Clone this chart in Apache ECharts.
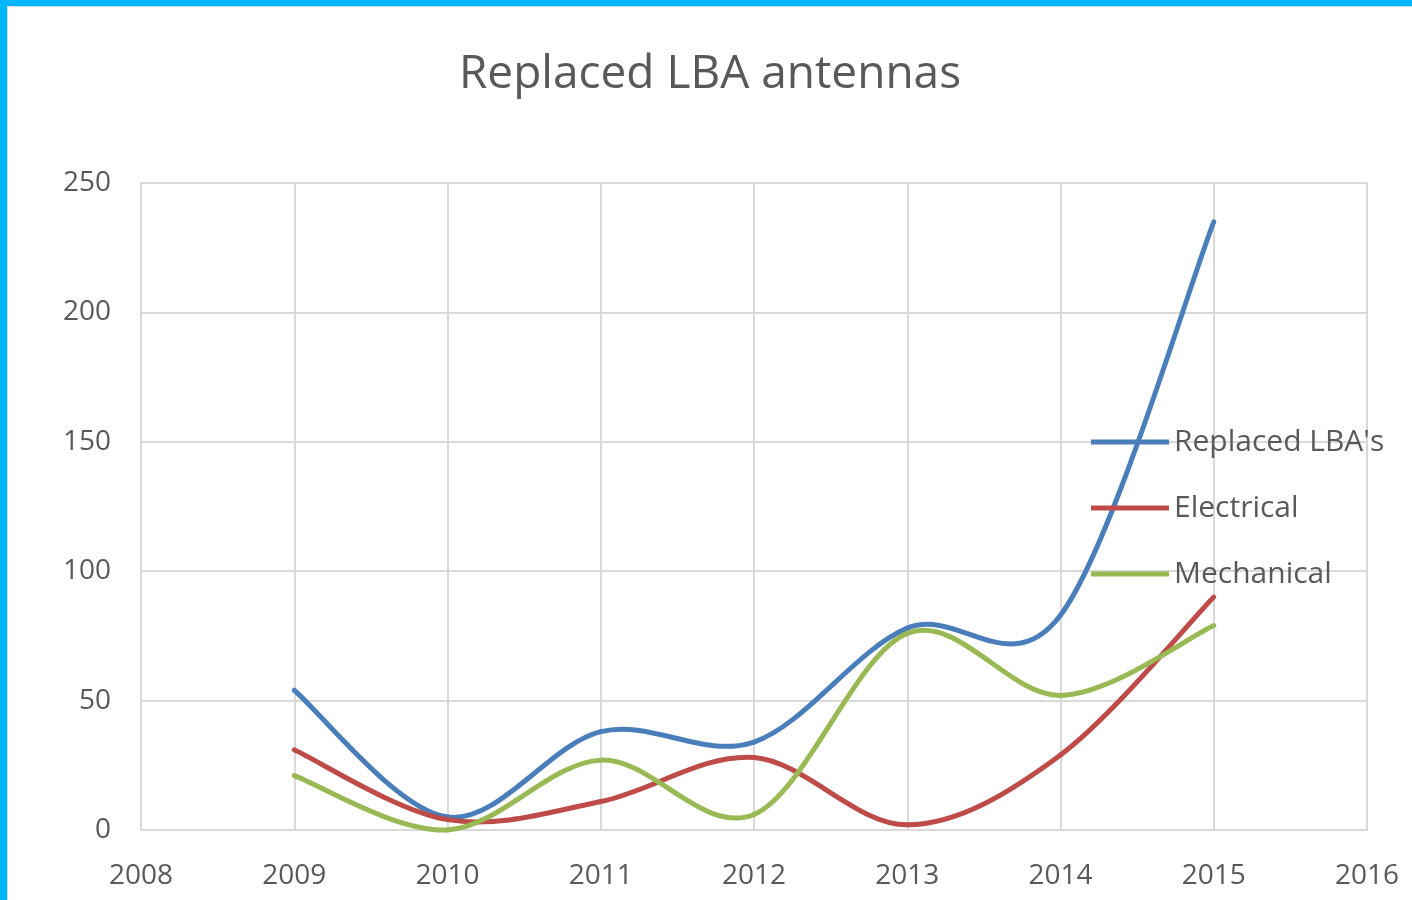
<!DOCTYPE html>
<html>
<head>
<meta charset="utf-8">
<title>Replaced LBA antennas</title>
<script src="https://cdn.jsdelivr.net/npm/echarts@6/dist/echarts.min.js"></script>
<style>
  html, body { margin: 0; padding: 0; background: #fff; }
  #frame {
    width: 1412px; height: 900px; box-sizing: border-box;
    border-top: 6px solid #00b6ff; border-left: 7px solid #00b6ff;
  }
  #chart { width: 100%; height: 100%; border-top: 1px solid #d9d9d9; border-left: 1px solid #d9d9d9; box-sizing: border-box; }
</style>
</head>
<body>
<div id="frame"><div id="chart"></div></div>
<script>
// data
const years = [2009, 2010, 2011, 2012, 2013, 2014, 2015]
const replaced = [54, 5, 38, 34, 78, 83, 235]
const electrical = [31, 4, 11, 28, 2, 29, 90]
const mechanical = [21, 0, 27, 6, 76, 52, 79]
const seriesNames = ["Replaced LBA's", 'Electrical', 'Mechanical']
const colors = ['#4a7ebb', '#be4b48', '#98b954']

const fontFamily = '"Open Sans", "Noto Sans", sans-serif'
const textColor = '#595959'
const gridColor = '#d9d9d9'

const chart = echarts.init(document.getElementById('chart'))

// excel style smoothing (catmull-rom bezier), one segment per data item
function smoothRenderer (values, color) {
  return function (params, api) {
    const i = params.dataIndex
    if (i >= years.length - 1) {
      return null
    }
    const pt = j => {
      const k = Math.max(0, Math.min(years.length - 1, j))
      return api.coord([years[k], values[k]])
    }
    const p0 = pt(i - 1)
    const p1 = pt(i)
    const p2 = pt(i + 1)
    const p3 = pt(i + 2)
    return {
      type: 'bezierCurve',
      shape: {
        x1: p1[0],
        y1: p1[1],
        x2: p2[0],
        y2: p2[1],
        cpx1: p1[0] + (p2[0] - p0[0]) / 6,
        cpy1: p1[1] + (p2[1] - p0[1]) / 6,
        cpx2: p2[0] - (p3[0] - p1[0]) / 6,
        cpy2: p2[1] - (p3[1] - p1[1]) / 6
      },
      style: {
        stroke: color,
        lineWidth: 5,
        fill: null,
        lineCap: 'round'
      },
      silent: true
    }
  }
}

const seriesData = [replaced, electrical, mechanical]
const series = seriesData.map((values, index) => ({
  name: seriesNames[index],
  type: 'custom',
  coordinateSystem: 'cartesian2d',
  itemStyle: { color: colors[index] },
  encode: { x: 0, y: 1 },
  renderItem: smoothRenderer(values, colors[index]),
  data: years.map((y, i) => [y, values[i]])
}))

chart.setOption({
  animation: false,
  title: {
    text: 'Replaced LBA antennas',
    left: 'center',
    top: 40,
    textStyle: {
      fontFamily: fontFamily,
      fontSize: 46,
      fontWeight: 'normal',
      color: textColor
    }
  },
  legend: {
    orient: 'vertical',
    left: 1078,
    top: 415,
    itemWidth: 78,
    itemHeight: 5,
    itemGap: 36,
    icon: 'rect',
    textStyle: {
      fontFamily: fontFamily,
      fontSize: 30,
      color: textColor,
      lineHeight: 30
    },
    data: seriesNames
  },
  grid: {
    left: 133,
    right: 45,
    top: 176,
    bottom: 70,
    containLabel: false
  },
  xAxis: {
    type: 'value',
    min: 2008,
    max: 2016,
    interval: 1,
    axisLine: { show: true, lineStyle: { color: gridColor, width: 2 } },
    axisTick: { show: false },
    splitLine: { show: true, lineStyle: { color: gridColor, width: 2 } },
    axisLabel: {
      margin: 32,
      fontFamily: fontFamily,
      fontSize: 28,
      color: textColor,
      formatter: v => String(v)
    }
  },
  yAxis: {
    type: 'value',
    min: 0,
    max: 250,
    interval: 50,
    axisLine: { show: true, lineStyle: { color: gridColor, width: 2 } },
    axisTick: { show: false },
    splitLine: { show: true, lineStyle: { color: gridColor, width: 2 } },
    axisLabel: {
      margin: 30,
      fontFamily: fontFamily,
      fontSize: 28,
      color: textColor
    }
  },
  series: series
})
</script>
</body>
</html>
